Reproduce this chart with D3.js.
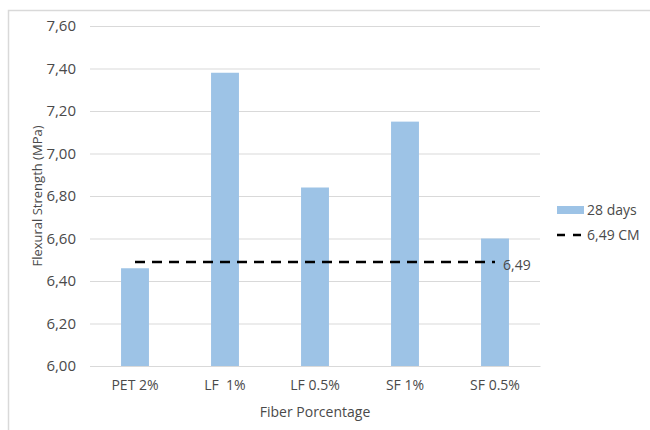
<!DOCTYPE html>
<html>
<head>
<meta charset="utf-8">
<script src="https://cdn.jsdelivr.net/npm/d3@7"></script>
<style>
  body { margin: 0; background: #fff; }
  text { font-family: "Open Sans", "Noto Sans", sans-serif; fill: #4a4a4a; }
</style>
</head>
<body>
<div id="chart"></div>
<script>
/* Flexural strength bar chart */

const categories = ["PET 2%", "LF  1%", "LF 0.5%", "SF 1%", "SF 0.5%"];
const values = [6.46, 7.38, 6.84, 7.15, 6.60];
const cmValue = 6.49;
const yTicks = [6.0, 6.2, 6.4, 6.6, 6.8, 7.0, 7.2, 7.4, 7.6];

const width = 650,
    height = 430,
    margin = ({ top: 26, right: 110, bottom: 64, left: 90 });

const svg = d3.select("#chart")
    .append("svg")
    .attr("width", width)
    .attr("height", height);

// outer chart border (left + top only visible)
svg.append("path")
    .attr("d", `M8.5,${height} V10.5 H${width}`)
    .attr("fill", "none")
    .attr("stroke", "#d9d9d9")
    .attr("stroke-width", 1.5);

let x = d3.scaleBand()
    .domain(categories)
    .range([margin.left, width - margin.right])
    .paddingInner(0.69)
    .paddingOuter(0.345);

let y = d3.scaleLinear()
    .domain([6, 7.6])
    .range([height - margin.bottom, margin.top]);

const fmt = d => d3.format(".2f")(d).replace(".", ",");

// gridlines + y labels
let yAxis = svg.append("g")
    .attr("transform", `translate(${margin.left},0)`)
    .call(d3.axisLeft(y)
        .tickValues(yTicks)
        .tickFormat(fmt)
        .tickSize(-(width - margin.right - margin.left))
        .tickPadding(14));
yAxis.select(".domain").remove();
yAxis.selectAll("line").attr("stroke", "#d9d9d9").attr("stroke-width", 1);
yAxis.selectAll("text").attr("font-size", 15).attr("fill", "#4a4a4a")
    .style("font-family", "'Open Sans', sans-serif");

// bars
svg.append("g")
    .selectAll("rect")
    .data(values)
    .join("rect")
    .attr("x", (d, i) => x(categories[i]))
    .attr("width", x.bandwidth())
    .attr("y", d => y(d))
    .attr("height", d => y(6) - y(d))
    .attr("fill", "#9dc3e6");

// x axis
let xAxis = svg.append("g")
    .attr("transform", `translate(0,${height - margin.bottom})`)
    .call(d3.axisBottom(x).tickSize(0).tickPadding(14));
xAxis.select(".domain").attr("stroke", "#d9d9d9").attr("stroke-width", 1);
xAxis.selectAll("text").attr("font-size", 14).attr("fill", "#4a4a4a")
    .style("font-family", "'Open Sans', sans-serif")
    .style("white-space", "pre");

// control mix line
let cmLine = d3.line()
    .x(d => x(d) + x.bandwidth() / 2)
    .y(() => y(cmValue));

svg.append("path")
    .datum([categories[0], categories[categories.length - 1]])
    .attr("d", cmLine)
    .attr("fill", "none")
    .attr("stroke", "#000")
    .attr("stroke-width", 2.5)
    .attr("stroke-dasharray", "10,7");

svg.append("text")
    .attr("x", x(categories[categories.length - 1]) + x.bandwidth() / 2 + 8)
    .attr("y", y(cmValue) + 8)
    .attr("font-size", 14)
    .text(fmt(cmValue));

// axis titles
svg.append("text")
    .attr("text-anchor", "middle")
    .attr("x", (margin.left + width - margin.right) / 2)
    .attr("y", 417)
    .attr("font-size", 14)
    .text("Fiber Porcentage");

svg.append("text")
    .attr("text-anchor", "middle")
    .attr("transform", `translate(42,${(margin.top + height - margin.bottom) / 2}) rotate(-90)`)
    .attr("font-size", 13)
    .text("Flexural Strength (MPa)");

// legend
let legend = svg.append("g").attr("transform", "translate(557,0)");
legend.append("rect")
    .attr("x", 0).attr("y", 206)
    .attr("width", 27).attr("height", 8)
    .attr("fill", "#9dc3e6");
legend.append("text")
    .attr("x", 30).attr("y", 215)
    .attr("font-size", 14)
    .text("28 days");
legend.append("line")
    .attr("x1", 0).attr("x2", 27)
    .attr("y1", 235).attr("y2", 235)
    .attr("stroke", "#000")
    .attr("stroke-width", 2.5)
    .attr("stroke-dasharray", "8,8");
legend.append("text")
    .attr("x", 30).attr("y", 240)
    .attr("font-size", 14)
    .text("6,49 CM");
</script>
</body>
</html>
